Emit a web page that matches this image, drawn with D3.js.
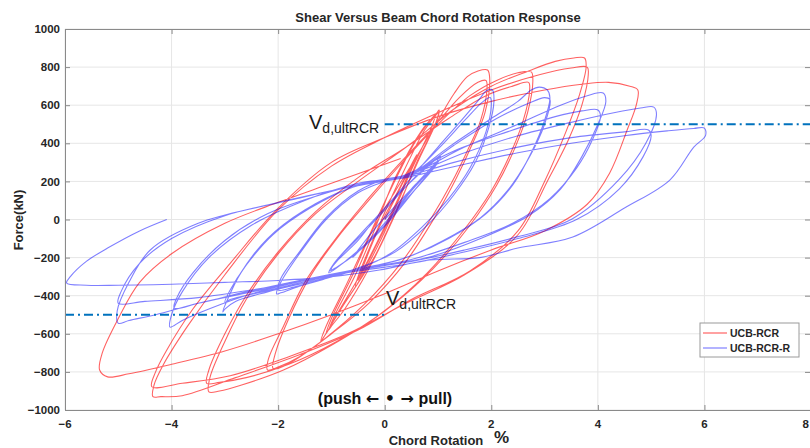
<!DOCTYPE html>
<html>
<head>
<meta charset="utf-8">
<script src="https://cdn.jsdelivr.net/npm/d3@7"></script>
<style>
  html, body { margin: 0; padding: 0; background: #fff; }
  svg { display: block; font-family: Arial, "Liberation Sans", sans-serif; }
</style>
</head>
<body>
<svg id="chart" width="810" height="448"></svg>
<script>
// Axis ticks
const xTicks = [-6, -4, -2, 0, 2, 4, 6, 8];
const yTicks = [-1000, -800, -600, -400, -200, 0, 200, 400, 600, 800, 1000];

// Design shear capacity (kN)
const vdUlt = 500;

// UCB-RCR: [chord rotation %, force kN], loaded cycle by cycle
const rcrSmall = [
  [0,0],[0.3,170],[0.55,310],[0.5,280],[0.15,40],[-0.2,-160],[-0.5,-320],[-0.45,-280],[-0.1,-40],
  [0.25,150],[0.6,340],[0.55,300],[0.2,60],[-0.15,-150],[-0.55,-350],[-0.5,-300],[-0.15,-60],
  [0.3,220],[0.75,470],[0.95,545],[1.0,560],[0.95,500],[0.6,300],[0.25,60],[-0.3,-260],[-0.75,-470],[-1.0,-560],[-1.05,-580],[-0.95,-510],[-0.55,-290],[-0.2,-60],
  [0.2,220],[0.7,470],[0.98,560],[1.02,575],[0.98,520],[0.65,320],[0.3,100],[-0.2,-200],[-0.8,-460],[-1.15,-620],[-1.2,-640],[-1.1,-560],[-0.7,-330],[-0.3,-90],
  [0.15,180],[0.6,420],[0.95,550],[0.9,500],[0.5,260],[0.1,20],[-0.4,-260],[-0.9,-500],[-1.1,-600],[-1.0,-520],[-0.6,-290],[-0.2,-40],[0.2,150]
];
const rcrCycle2 = [
  [0.6,330],[1.0,520],[1.3,660],[1.55,750],[1.75,780],[1.93,785],[1.97,740],[1.88,560],[1.65,400],[1.35,220],[1.0,40],[0.4,-220],[-0.3,-440],[-1.0,-600],[-1.6,-720],[-2.0,-775],[-2.2,-790],[-2.18,-730],[-1.9,-560],[-1.5,-330],[-1.0,-130],[-0.4,80],[0.3,300],[0.9,480],[1.4,640],[1.75,720],[1.9,730],[1.92,690],[1.8,520],[1.55,360],[1.25,190],[0.9,20],[0.3,-230],[-0.4,-450],[-1.1,-620],[-1.7,-740],[-2.05,-785],[-2.1,-780],[-2.05,-700],[-1.8,-520],[-1.4,-300],[-0.9,-100],[-0.3,100]
];
const rcrCycle3 = [
  [0.3,290],[1.0,500],[1.6,650],[2.1,730],[2.5,770],[2.75,775],[2.78,730],[2.68,560],[2.45,380],[2.1,180],[1.6,-30],[0.9,-260],[0,-480],[-0.9,-640],[-1.8,-760],[-2.6,-830],[-3.1,-855],[-3.34,-860],[-3.3,-790],[-3.0,-600],[-2.6,-400],[-2.0,-170],[-1.3,40],[-0.5,220],[0.4,380],[1.2,530],[1.9,650],[2.4,700],[2.7,720],[2.72,680],[2.6,520],[2.35,340],[2.0,150],[1.5,-50],[0.8,-280],[-0.1,-500],[-1.0,-660],[-1.9,-790],[-2.7,-870],[-3.1,-900],[-3.3,-905],[-3.28,-830],[-3.0,-640],[-2.6,-420],[-2.0,-180],[-1.3,30],[-0.5,200]
];
const rcrCycle4 = [
  [0.5,400],[1.3,580],[2.0,700],[2.7,780],[3.2,830],[3.55,848],[3.75,848],[3.78,800],[3.65,650],[3.4,460],[3.0,200],[2.5,-60],[1.6,-270],[0.5,-420],[-0.5,-580],[-1.6,-710],[-2.8,-830],[-3.8,-925],[-4.2,-930],[-4.35,-930],[-4.33,-870],[-4.15,-760],[-3.7,-560],[-3.0,-290],[-2.0,50],[-1.0,280],[0,430],[1.0,560],[2.0,680],[2.9,760],[3.5,795],[3.8,800],[3.82,760],[3.7,600],[3.45,420],[3.05,200],[2.5,-80],[1.5,-290],[0.4,-440],[-0.7,-600],[-1.8,-720],[-2.9,-820],[-3.8,-860],[-4.37,-878],[-4.3,-800],[-4.1,-690],[-3.6,-470],[-2.9,-230],[-2.0,60]
];
const rcrCycle5 = [
  [-1.0,300],[0,430],[1.0,540],[2.0,620],[3.0,680],[3.7,710],[4.2,720],[4.6,700],[4.75,680],[4.72,600],[4.55,470],[4.22,243],[3.8,80],[3.0,-60],[2.0,-160],[1.0,-270],[0,-390],[-1.0,-500],[-2.0,-600],[-3.0,-690],[-4.0,-760],[-4.8,-810],[-5.2,-826],[-5.35,-790],[-5.3,-700],[-5.0,-520],[-4.6,-330],[-4.0,-180],[-3.0,-20],[-2.0,90],[-1.0,190],[0.3,320]
];

// UCB-RCR-R: [chord rotation %, force kN], loaded cycle by cycle
const rcrRSmall = [
  [0,0],[0.3,90],[0.6,190],[0.5,160],[0.15,30],[-0.3,-110],[-0.6,-200],[-0.5,-160],[-0.1,-20],
  [0.4,130],[0.8,250],[1.0,310],[0.9,270],[0.55,150],[0.05,-20],[-0.5,-170],[-0.9,-250],[-1.03,-270],[-0.9,-220],[-0.5,-110],[-0.1,30],[0.5,200],[1.0,320],[0.95,290],[0.5,150],[0,-30],[-0.6,-190],[-1.0,-265],[-0.9,-215],[-0.4,-70],[0.1,80],
  [0.6,230],[1.05,330],[0.95,280],[0.45,120],[-0.1,-60],[-0.7,-210],[-1.05,-280],[-0.95,-230],[-0.5,-90],[0,60]
];
const rcrRCycle2 = [
  [0.5,220],[1.0,380],[1.5,540],[1.8,640],[1.9,675],[2.02,680],[2.05,620],[1.95,480],[1.7,300],[1.3,130],[0.8,-30],[0.2,-170],[-0.45,-250],[-1.0,-300],[-1.6,-350],[-1.95,-385],[-2.03,-390],[-1.95,-330],[-1.6,-180],[-1.1,0],[-0.5,140],[0,200],[0.5,240],[1.0,370],[1.5,520],[1.85,620],[1.98,640],[2.0,600],[1.9,460],[1.6,270],[1.2,110],[0.7,-40],[0.1,-180],[-0.5,-260],[-1.1,-310],[-1.7,-355],[-2.0,-370],[-1.95,-310],[-1.6,-170],[-1.1,10],[-0.5,150]
];
const rcrRCycle3 = [
  [0,210],[0.5,240],[1.2,380],[2.0,530],[2.5,620],[2.75,680],[2.9,695],[3.05,680],[3.1,640],[3.0,520],[2.75,350],[2.4,180],[1.9,30],[1.2,-100],[0.4,-200],[-0.45,-260],[-1.3,-320],[-2.2,-380],[-2.8,-430],[-3.0,-470],[-3.04,-485],[-2.95,-420],[-2.7,-280],[-2.2,-100],[-1.5,50],[-0.7,160],[0,210],[0.5,235],[1.3,390],[2.1,530],[2.7,610],[3.0,640],[3.1,630],[3.0,500],[2.7,320],[2.3,150],[1.8,10],[1.1,-110],[0.3,-210],[-0.5,-260],[-1.4,-320],[-2.3,-380],[-2.9,-420],[-3.0,-435],[-2.9,-370],[-2.6,-240],[-2.1,-80],[-1.4,60],[-0.6,170]
];
const rcrRCycle4 = [
  [0,210],[0.5,240],[1.5,380],[2.5,500],[3.3,600],[3.8,650],[4.1,664],[4.15,620],[4.0,500],[3.7,330],[3.3,160],[2.7,20],[1.8,-100],[0.8,-200],[-0.4,-260],[-1.5,-320],[-2.5,-390],[-3.3,-470],[-3.8,-530],[-4.03,-565],[-4.0,-500],[-3.8,-380],[-3.3,-200],[-2.5,-30],[-1.5,100],[-0.5,190],[0.3,225],[1.3,360],[2.3,460],[3.2,540],[3.7,570],[4.0,575],[4.05,540],[3.9,420],[3.6,270],[3.1,110],[2.4,-20],[1.5,-120],[0.5,-210],[-0.5,-260],[-1.6,-320],[-2.6,-380],[-3.5,-440],[-3.95,-465],[-3.9,-410],[-3.6,-280],[-3.0,-110],[-2.2,30],[-1.2,130]
];
const rcrRCycle5 = [
  [-0.4,190],[0.5,240],[1.5,350],[2.5,440],[3.5,510],[4.3,560],[4.8,585],[5.05,590],[5.1,550],[4.9,400],[4.4,210],[3.5,0],[2.5,-90],[1.5,-160],[0.5,-220],[-0.5,-260],[-1.5,-320],[-2.5,-380],[-3.5,-440],[-4.3,-500],[-4.8,-530],[-5.0,-545],[-5.02,-480],[-4.8,-330],[-4.4,-160],[-3.5,-20],[-2.2,76],[-0.66,170],[0.3,218],[1.3,300],[2.5,380],[3.5,430],[4.5,460],[4.95,470],[5.0,440],[4.85,330],[4.4,160],[3.6,0],[2.5,-100],[1.5,-170],[0.5,-230],[-0.5,-270],[-1.5,-320],[-2.5,-370],[-3.5,-410],[-4.5,-430],[-5.0,-440],[-4.95,-380],[-4.6,-230],[-4.0,-100],[-3.0,20],[-1.8,100],[-0.5,180],[0.4,220]
];
const rcrRCycle6 = [
  [0.4,220],[1.5,290],[2.5,350],[3.5,400],[4.5,440],[5.3,465],[5.8,478],[6.0,480],[6.02,440],[5.8,380],[5.35,207],[4.5,60],[3.53,-92],[2.5,-150],[1.78,-200],[0.84,-213],[-0.1,-265],[-1.0,-300],[-2,-320],[-3,-330],[-4,-340],[-5,-345],[-5.6,-345],[-5.97,-333],[-5.9,-300],[-5.6,-220],[-5.2,-150],[-4.6,-60],[-4.09,0]
];

const series = [
  { name: "UCB-RCR",   color: "rgba(255,0,0,0.62)", cycles: [rcrSmall, rcrCycle2, rcrCycle3, rcrCycle4, rcrCycle5] },
  { name: "UCB-RCR-R", color: "rgba(0,0,255,0.5)",  cycles: [rcrRSmall, rcrRCycle2, rcrRCycle3, rcrRCycle4, rcrRCycle5, rcrRCycle6] }
];

const svg = d3.select("#chart");
const plotLeft = 65, plotRight = 811, plotTop = 29, plotBottom = 410;
const x = d3.scaleLinear().domain([-6, 8]).range([plotLeft, plotRight]);
const y = d3.scaleLinear().domain([-1000, 1000]).range([plotBottom, plotTop]);
const textColor = "#262626";
const axisColor = "#8a8a8a";

svg.append("defs").append("clipPath").attr("id", "plot-clip")
  .append("rect").attr("x", plotLeft).attr("y", plotTop)
  .attr("width", plotRight - plotLeft).attr("height", plotBottom - plotTop);

// Grid
const grid = svg.append("g");
grid.selectAll(".gx").data(xTicks).join("line")
  .attr("x1", d => x(d)).attr("x2", d => x(d)).attr("y1", plotTop).attr("y2", plotBottom)
  .attr("stroke", "#e6e6e6").attr("stroke-width", 1);
grid.selectAll(".gy").data(yTicks).join("line")
  .attr("x1", plotLeft).attr("x2", plotRight).attr("y1", d => y(d)).attr("y2", d => y(d))
  .attr("stroke", "#e6e6e6").attr("stroke-width", 1);

// Hysteresis loops
const line = d3.line().x(d => x(d[0])).y(d => y(d[1])).curve(d3.curveCatmullRom.alpha(0.5));
const plot = svg.append("g").attr("clip-path", "url(#plot-clip)");
series.forEach(s => {
  const path = [];
  s.cycles.forEach(c => c.forEach(p => path.push(p)));
  plot.append("path").datum(path)
    .attr("d", line).attr("fill", "none")
    .attr("stroke", s.color).attr("stroke-width", 1.1).attr("stroke-linejoin", "round");
});

// Design shear capacity lines
const vdLines = [
  { from: 0, to: 8, value: vdUlt },
  { from: -6, to: 0, value: -vdUlt }
];
plot.selectAll(".vd").data(vdLines).join("line")
  .attr("x1", d => x(d.from)).attr("x2", d => x(d.to))
  .attr("y1", d => y(d.value)).attr("y2", d => y(d.value))
  .attr("stroke", "#0072BD").attr("stroke-width", 1.8)
  .attr("stroke-dasharray", "9,4,2,4");

// Axes (ticks inside the box on all four sides)
const xAxisB = d3.axisBottom(x).tickValues(xTicks).tickSize(-5).tickFormat("");
const xAxisT = d3.axisTop(x).tickValues(xTicks).tickSize(-5).tickFormat("");
const yAxisL = d3.axisLeft(y).tickValues(yTicks).tickSize(-5).tickFormat("");
const yAxisR = d3.axisRight(y).tickValues(yTicks).tickSize(-5).tickFormat("");
[[xAxisB, `translate(0,${plotBottom})`], [xAxisT, `translate(0,${plotTop})`],
 [yAxisL, `translate(${plotLeft},0)`], [yAxisR, `translate(${plotRight - 1},0)`]].forEach(([ax, tr]) => {
  const g = svg.append("g").attr("transform", tr).call(ax);
  g.selectAll("path, line").attr("stroke", axisColor).attr("stroke-width", 1);
});

const fmt = v => (v < 0 ? "\u2212" + Math.abs(v) : String(v));
// the last x label sits at the right edge of the page, so it is right-aligned
svg.append("g").selectAll("text").data(xTicks).join("text")
  .attr("x", d => Math.min(x(d), 809)).attr("y", 428)
  .attr("text-anchor", d => (x(d) > 805 ? "end" : "middle"))
  .attr("font-size", 11.5).attr("font-weight", "bold").attr("fill", textColor)
  .text(fmt);
svg.append("g").selectAll("text").data(yTicks).join("text")
  .attr("x", 60).attr("y", d => y(d)).attr("dy", "0.36em").attr("text-anchor", "end")
  .attr("font-size", 11.5).attr("font-weight", "bold").attr("fill", textColor)
  .text(fmt);

// Titles
svg.append("text").attr("x", 438).attr("y", 22).attr("text-anchor", "middle")
  .attr("font-size", 13).attr("font-weight", "bold").attr("fill", textColor)
  .text("Shear Versus Beam Chord Rotation Response");
svg.append("text").attr("x", 436).attr("y", 445).attr("text-anchor", "middle")
  .attr("font-size", 13).attr("font-weight", "bold").attr("fill", textColor)
  .text("Chord Rotation");
svg.append("text").attr("x", 494).attr("y", 443)
  .attr("font-size", 17).attr("font-weight", "bold").attr("fill", textColor)
  .text("%");
svg.append("text").attr("transform", "translate(23,220) rotate(-90)").attr("text-anchor", "middle")
  .attr("font-size", 13).attr("font-weight", "bold").attr("fill", textColor)
  .text("Force(kN)");

// Capacity labels
function vdLabel(px, py) {
  const t = svg.append("text").attr("x", px).attr("y", py).attr("fill", "#1a1a1a");
  t.append("tspan").attr("font-size", 20).text("V");
  t.append("tspan").attr("font-size", 14).attr("dy", 4).text("d,ultRCR");
}
vdLabel(309, 129);
vdLabel(386, 305);

// Loading direction note
const note = svg.append("text").attr("x", 385).attr("y", 404).attr("text-anchor", "middle")
  .attr("font-size", 16).attr("font-weight", "bold").attr("fill", "#111");
note.append("tspan").text("(push ");
note.append("tspan").attr("font-family", "'DejaVu Sans', sans-serif").text("\u2190 \u2022 \u2192");
note.append("tspan").text(" pull)");

// Legend
const lg = svg.append("g").attr("transform", "translate(700,323)");
lg.append("rect").attr("width", 99).attr("height", 34)
  .attr("fill", "#fff").attr("stroke", "#9a9a9a").attr("stroke-width", 1);
series.forEach((s, i) => {
  const yy = 10 + i * 15;
  lg.append("line").attr("x1", 3).attr("x2", 27).attr("y1", yy).attr("y2", yy)
    .attr("stroke", s.color).attr("stroke-width", 1.2);
  lg.append("text").attr("x", 30).attr("y", yy).attr("dy", "0.35em")
    .attr("font-size", 10.5).attr("font-weight", "bold").attr("fill", textColor)
    .text(s.name);
});
</script>
</body>
</html>
